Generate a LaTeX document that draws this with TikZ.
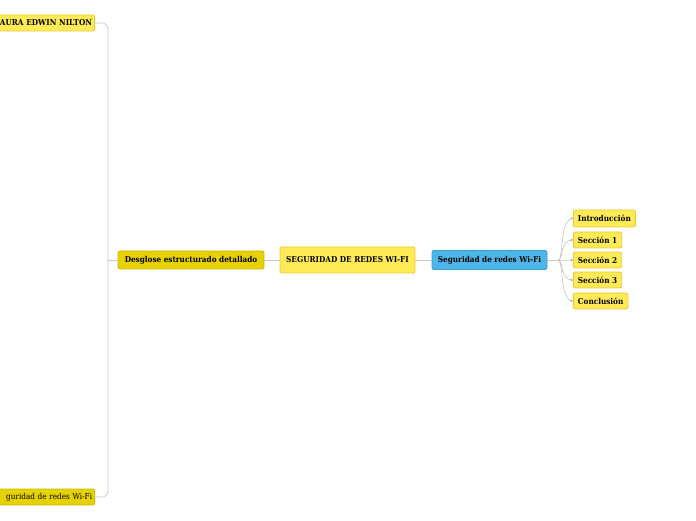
\documentclass[tikz,border=0pt]{standalone}
\usepackage{fontspec}
\setmainfont{DejaVu Serif Condensed}
\usetikzlibrary{positioning}
\definecolor{lyel}{HTML}{FFEB55}
\definecolor{lyelb}{HTML}{EAC93A}
\definecolor{dyel}{HTML}{E6D200}
\definecolor{dyelb}{HTML}{CDBA00}
\definecolor{blu}{HTML}{4DB6E8}
\definecolor{blub}{HTML}{3A9FD0}
\definecolor{lin}{HTML}{C8C8C8}
\tikzset{
  x=1pt,y=1pt,
  box/.style={draw, line width=0.8pt, rounded corners=2pt, inner sep=0pt, font=\bfseries\fontsize{8.1}{9}\selectfont, text=black},
  ly/.style={box, fill=lyel, draw=lyelb},
  dy/.style={box, fill=dyel, draw=dyelb},
  bl/.style={box, fill=blu, draw=blub},
  kid/.style={ly, anchor=west, inner xsep=4.5pt, minimum height=16},
  conn/.style={draw=lin, line width=0.7pt},
}
\begin{document}
\begin{tikzpicture}
\useasboundingbox (0,0) rectangle (696,520);
% y = 520 - py
\node[ly, minimum width=105, minimum height=16, anchor=east, text width=100, align=right] (top) at (95,497) {AURA EDWIN NILTON\hspace{5pt}};
\node[dy, minimum width=105, minimum height=16, anchor=east, text width=100, align=right, font=\fontsize{8.1}{9}\selectfont] (bot) at (95,23) {guridad de redes Wi-Fi\hspace{4pt}};
\node[dy, minimum width=146, minimum height=18] (des) at (191,260) {Desglose estructurado detallado};
\node[ly, minimum width=135, minimum height=26] (root) at (347.5,260) {SEGURIDAD DE REDES WI-FI};
\node[bl, minimum width=115, minimum height=19] (sw) at (489.5,260) {Seguridad de redes Wi-Fi};
\node[kid, minimum height=17] (c1) at (573,301.5) {Introducción};
\node[kid] (c2) at (573,280) {Sección 1};
\node[kid] (c3) at (573,260) {Sección 2};
\node[kid] (c4) at (573,240) {Sección 3};
\node[kid] (c5) at (573,219) {Conclusión};
% connectors
\coordinate (hub) at (108,260);
\draw[conn] (des.west) -- (hub);
\draw[conn, rounded corners=6pt] (top.east) -- (108,497) -- (hub);
\draw[conn, rounded corners=6pt] (bot.east) -- (108,23) -- (hub);
\draw[conn] (des.east) -- (root.west);
\draw[conn] (root.east) -- (sw.west);
\coordinate (fan) at (558,260);
\draw[conn] (sw.east) -- (fan);
\foreach \c in {c1,c2,c3,c4,c5}{
  \draw[conn] (fan) .. controls (564,260) and ([xshift=-14pt]\c.west) .. (\c.west);
}
\foreach \c in {c1,c2,c3,c4,c5}{
  \fill[lin!70!black] ([xshift=-1.5pt]\c.west) circle (0.9);
}
\end{tikzpicture}
\end{document}
